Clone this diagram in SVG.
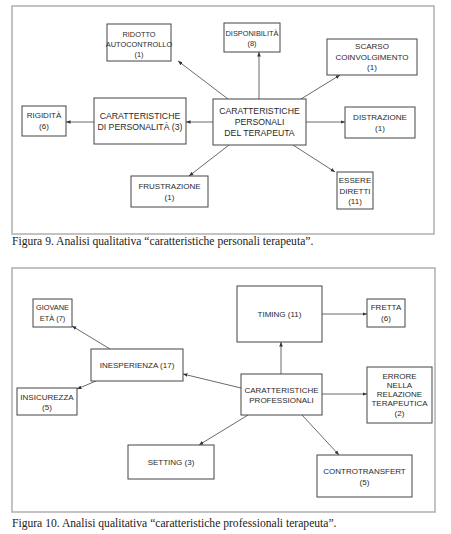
<svg xmlns="http://www.w3.org/2000/svg" width="451" height="534" viewBox="0 0 451 534">
<style>
.frame{fill:#fff;stroke:#b4b4b4;stroke-width:1.6}
.box{fill:#fff;stroke:#444;stroke-width:1}
.t{font-family:"Liberation Sans",Arial,sans-serif;font-size:8px;fill:#2a2a2a;text-anchor:middle}
.s{font-family:"Liberation Sans",Arial,sans-serif;font-size:7.4px;fill:#2a2a2a;text-anchor:middle}
.tb{font-family:"Liberation Sans",Arial,sans-serif;font-size:8.7px;fill:#2a2a2a;text-anchor:middle}
.cap{font-family:"Liberation Serif","Times New Roman",serif;font-size:11.6px;fill:#222}
.c{stroke:#444;stroke-width:0.8;fill:none;marker-end:url(#ah)}
</style>
<defs>
<marker id="ah" viewBox="0 0 10 10" refX="10" refY="5" markerWidth="4.5" markerHeight="4.5" markerUnits="userSpaceOnUse" orient="auto">
<path d="M0,1 L10,5 L0,9 z" fill="#333"/>
</marker>
</defs>
<rect width="451" height="534" fill="#fff"/>
<rect class="frame" x="12" y="6" width="422" height="228"/>
<rect class="frame" x="12" y="268" width="423" height="244"/>

<g id="connectors">
<line class="c" x1="228" y1="99" x2="178" y2="61"/>
<line class="c" x1="259" y1="99" x2="259" y2="52"/>
<line class="c" x1="301" y1="99" x2="340" y2="75"/>
<line class="c" x1="213" y1="122" x2="186" y2="122"/>
<line class="c" x1="94" y1="122" x2="66" y2="122"/>
<line class="c" x1="306" y1="122" x2="345" y2="122"/>
<line class="c" x1="229" y1="145" x2="189" y2="176"/>
<line class="c" x1="293" y1="145" x2="335" y2="172"/>
<line class="c" x1="110" y1="349" x2="72" y2="326"/>
<line class="c" x1="322" y1="314" x2="367" y2="314"/>
<line class="c" x1="281" y1="374" x2="281" y2="342"/>
<line class="c" x1="241" y1="388" x2="183" y2="374"/>
<line class="c" x1="96" y1="381" x2="77" y2="389"/>
<line class="c" x1="322" y1="394" x2="367" y2="394"/>
<line class="c" x1="248" y1="415" x2="199" y2="445"/>
<line class="c" x1="302" y1="415" x2="339" y2="455"/>
</g>

<g id="ridotto"><rect class="box" x="107" y="24" width="64" height="37"/>
<text class="s" x="139" y="37">RIDOTTO</text><text class="s" x="139" y="47">AUTOCONTROLLO</text><text class="s" x="139" y="57">(1)</text></g>
<g id="disponibilita"><rect class="box" x="224" y="23" width="56" height="29"/>
<text class="s" x="252" y="36">DISPONIBILITÀ</text><text class="s" x="252" y="46">(8)</text></g>
<g id="scarso"><rect class="box" x="327" y="39" width="90" height="36"/>
<text class="t" x="372" y="49">SCARSO</text><text class="t" x="372" y="59.5">COINVOLGIMENTO</text><text class="t" x="372" y="70">(1)</text></g>
<g id="rigidita"><rect class="box" x="22" y="106" width="44" height="30"/>
<text class="t" x="44" y="118">RIGIDITÀ</text><text class="t" x="44" y="129">(6)</text></g>
<g id="personalita"><rect class="box" x="94" y="98" width="92" height="46"/>
<text class="tb" x="140" y="119">CARATTERISTICHE</text><text class="tb" x="140" y="130">DI PERSONALITÀ (3)</text></g>
<g id="personali"><rect class="box" x="213" y="99" width="93" height="46"/>
<text class="tb" x="259.5" y="114">CARATTERISTICHE</text><text class="tb" x="259.5" y="125">PERSONALI</text><text class="tb" x="259.5" y="136">DEL TERAPEUTA</text></g>
<g id="distrazione"><rect class="box" x="345" y="107" width="70" height="31"/>
<text class="t" x="380" y="120">DISTRAZIONE</text><text class="t" x="380" y="131">(1)</text></g>
<g id="frustrazione"><rect class="box" x="131" y="176" width="77" height="31"/>
<text class="t" x="169.5" y="189">FRUSTRAZIONE</text><text class="t" x="169.5" y="199.5">(1)</text></g>
<g id="essere"><rect class="box" x="337" y="172" width="36" height="37"/>
<text class="t" x="355" y="183">ESSERE</text><text class="t" x="355" y="193.5">DIRETTI</text><text class="t" x="355" y="204">(11)</text></g>

<text class="cap" x="12" y="245">Figura 9. Analisi qualitativa “caratteristiche personali terapeuta”.</text>

<g id="giovane"><rect class="box" x="33" y="299" width="39" height="28"/>
<text class="s" x="52.5" y="310">GIOVANE</text><text class="s" x="52.5" y="320.5">ETÀ (7)</text></g>
<g id="timing"><rect class="box" x="237" y="286" width="85" height="56"/>
<text class="t" x="279.5" y="317">TIMING (11)</text></g>
<g id="fretta"><rect class="box" x="367" y="299" width="38" height="28"/>
<text class="t" x="386" y="310">FRETTA</text><text class="t" x="386" y="320.5">(6)</text></g>
<g id="inesperienza"><rect class="box" x="91" y="349" width="92" height="32"/>
<text class="t" x="137" y="368">INESPERIENZA (17)</text></g>
<g id="professionali"><rect class="box" x="241" y="374" width="81" height="41"/>
<text class="t" x="281.5" y="392.5">CARATTERISTICHE</text><text class="t" x="281.5" y="402.5">PROFESSIONALI</text></g>
<g id="errore"><rect class="box" x="367" y="367" width="65" height="56"/>
<text class="t" x="399.5" y="379">ERRORE</text><text class="t" x="399.5" y="388">NELLA</text><text class="t" x="399.5" y="397">RELAZIONE</text><text class="t" x="399.5" y="406">TERAPEUTICA</text><text class="t" x="399.5" y="415.5">(2)</text></g>
<g id="insicurezza"><rect class="box" x="17" y="388" width="60" height="27"/>
<text class="t" x="47" y="400">INSICUREZZA</text><text class="t" x="47" y="410">(5)</text></g>
<g id="setting"><rect class="box" x="128" y="445" width="86" height="34"/>
<text class="t" x="171" y="465">SETTING (3)</text></g>
<g id="controtransfert"><rect class="box" x="317" y="455" width="95" height="42"/>
<text class="t" x="364.5" y="474">CONTROTRANSFERT</text><text class="t" x="364.5" y="485">(5)</text></g>

<text class="cap" x="12" y="527">Figura 10. Analisi qualitativa “caratteristiche professionali terapeuta”.</text>
</svg>
